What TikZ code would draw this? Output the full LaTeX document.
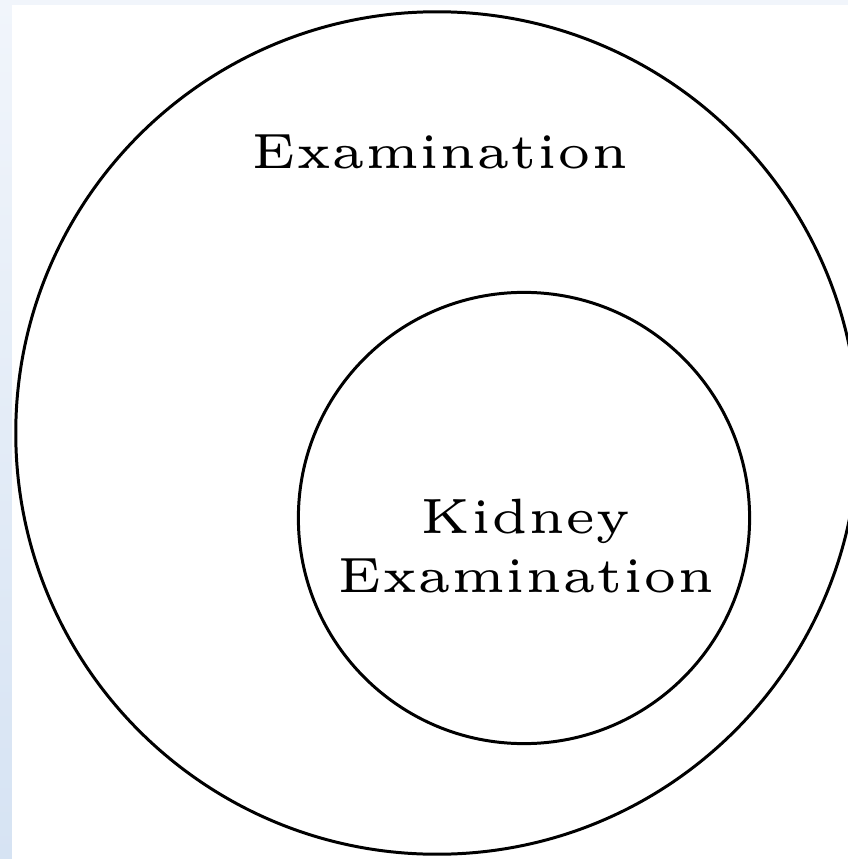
\documentclass[tikz,border=0pt]{standalone}
\usepackage{tikz}

\definecolor{stripblue}{HTML}{D6E3F3}
\definecolor{stripwhite}{HTML}{F1F5FB}

\begin{document}
\begin{tikzpicture}[x=0.01cm,y=0.01cm]
\tikzstyle{ring}=[draw,circle,line width=0.85pt,inner sep=0pt]
\tikzstyle{lbl}=[align=center,font=\tiny,scale=2.82,inner sep=0pt]
\useasboundingbox (0,0) rectangle (848,859);
% page edge behind the picture
\fill[stripwhite] (0,854) rectangle (848,859);
\shade[top color=stripwhite,bottom color=stripblue] (0,0) rectangle (12,859);
\begin{scope}
\clip (12,0) rectangle (848,854);
\node[ring,minimum size=8.42cm] (exam) at (437,426) {};
\end{scope}
\node[ring,minimum size=4.51cm] (kidney) at (524,341) {};

\node[lbl] (examlbl) at (440,707) {Examination};
\node[lbl] (kidneylbl) at (526,313) {Kidney\\Examination};
\end{tikzpicture}
\end{document}
